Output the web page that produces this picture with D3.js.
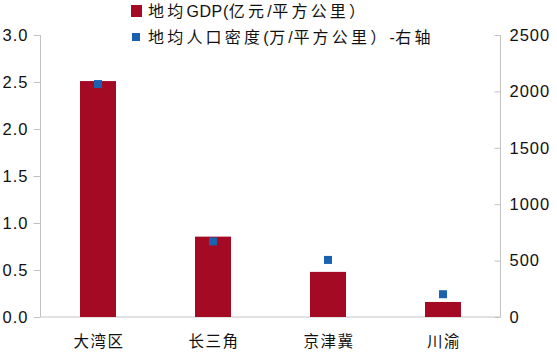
<!DOCTYPE html>
<html lang="zh">
<head>
<meta charset="utf-8">
<style>
  body { margin: 0; background: #fff; }
  svg { display: block; font-family: "Liberation Sans", Arial, "Noto Sans CJK SC", sans-serif; }
</style>
<script src="https://d3js.org/d3.v7.min.js"></script>
</head>
<body>
<script>
const regions = ["大湾区", "长三角", "京津冀", "川渝"];
const gdpDensity = [2.51, 0.855, 0.48, 0.16];     // 亿元/平方公里, left axis
const popDensity = [2065, 670, 506, 202];          // 右轴
const leftTicks = [0, 0.5, 1.0, 1.5, 2.0, 2.5, 3.0];
const rightTicks = [0, 500, 1000, 1500, 2000, 2500];
const legendLabels = ["地均GDP(亿元/平方公里）", "地均人口密度(万/平方公里）-右轴"];

const W = 557, H = 352;
const plotTop = 35, plotBottom = 317, plotLeft = 40.5, plotRight = 500.5;
const red = "#a50a25", blue = "#1a62b0", axisColor = "#c3c3c3";

const svg = d3.select("body").append("svg")
  .attr("width", W).attr("height", H);

const x = d3.scaleBand()
  .domain(regions)
  .range([plotLeft, plotRight])
  .paddingInner(0.687)
  .paddingOuter(0.3435);

const yL = d3.scaleLinear().domain([0, 3]).range([plotBottom, plotTop]);
const yR = d3.scaleLinear().domain([0, 2500]).range([plotBottom, plotTop]);

// left axis
const gL = svg.append("g")
  .attr("transform", `translate(${plotLeft},0)`)
  .call(d3.axisLeft(yL).tickValues(leftTicks).tickFormat(d3.format(".1f")).tickSize(7).tickPadding(5));
// right axis, ticks drawn inward
const gR = svg.append("g")
  .attr("transform", `translate(${plotRight},0)`)
  .call(d3.axisRight(yR).tickValues(rightTicks).tickFormat(d3.format("d")).tickSize(0).tickPadding(9));
gR.selectAll(".tick").append("line").attr("x1", -6).attr("x2", 0);

[gL, gR].forEach(g => {
  g.select(".domain").attr("stroke", axisColor).attr("d", `M0,${plotTop}V${plotBottom}`);
  g.selectAll(".tick line").attr("stroke", axisColor);
  g.selectAll(".tick text").attr("fill", "#111")
    .style("font-size", "16.5px").style("letter-spacing", "1px");
});

// bottom axis line
svg.append("line")
  .attr("x1", plotLeft).attr("x2", plotRight)
  .attr("y1", plotBottom).attr("y2", plotBottom)
  .attr("stroke", axisColor);

// category labels
svg.append("g").selectAll("text")
  .data(regions)
  .join("text")
  .attr("x", d => x(d) + x.bandwidth() / 2 + 1)
  .attr("y", 347)
  .attr("text-anchor", "middle")
  .style("font-family", "'Noto Sans CJK SC', sans-serif")
  .style("font-size", "15.5px")
  .style("letter-spacing", "1.5px")
  .attr("fill", "#111")
  .text(d => d);

// bars
svg.append("g").selectAll("rect")
  .data(regions)
  .join("rect")
  .attr("x", d => x(d))
  .attr("width", x.bandwidth())
  .attr("y", (d, i) => yL(gdpDensity[i]))
  .attr("height", (d, i) => yL(0) - yL(gdpDensity[i]))
  .attr("fill", red);

// population markers
const ms = 8;
svg.append("g").selectAll("rect")
  .data(regions)
  .join("rect")
  .attr("x", d => x(d) + x.bandwidth() / 2 - ms / 2)
  .attr("y", (d, i) => yR(popDensity[i]) - ms / 2)
  .attr("width", ms).attr("height", ms)
  .attr("fill", blue);

// legend
const lg = svg.append("g");
lg.append("rect").attr("x", 131).attr("y", 5).attr("width", 11).attr("height", 12).attr("fill", red);
lg.append("rect").attr("x", 132).attr("y", 33).attr("width", 8).attr("height", 8).attr("fill", blue);
const isCJK = s => /[\u3000-\u9fff\uff00-\uffef]/.test(s);
lg.selectAll("text")
  .data(legendLabels)
  .join("text")
  .attr("x", 148)
  .attr("y", (d, i) => 17 + i * 26)
  .style("font-size", "16px")
  .attr("fill", "#111")
  .each(function (d) {
    const runs = d.match(/[\u3000-\u9fff\uff00-\uffef]+|[^\u3000-\u9fff\uff00-\uffef]+/g);
    d3.select(this).selectAll("tspan")
      .data(runs)
      .join("tspan")
      .style("letter-spacing", r => isCJK(r) ? "3.2px" : "0.6px")
      .text(r => r);
  });
</script>
</body>
</html>
